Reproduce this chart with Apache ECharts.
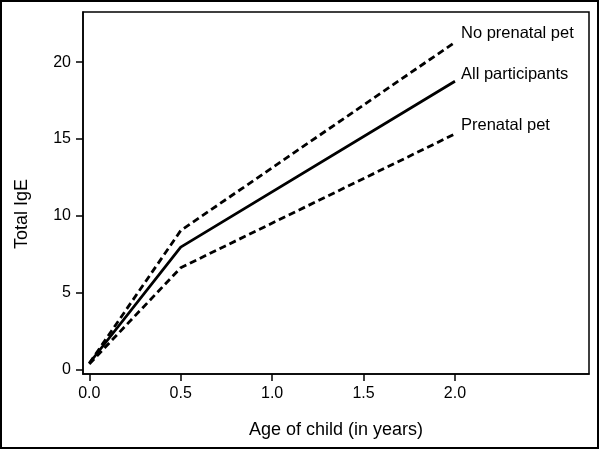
<!DOCTYPE html>
<html>
<head>
<meta charset="utf-8">
<script src="https://cdn.jsdelivr.net/npm/echarts@6/dist/echarts.min.js"></script>
<style>
html,body{margin:0;padding:0;background:#fff;}
#c{width:600px;height:450px;}
</style>
</head>
<body>
<div id="c"></div>
<script>
const ages = [0.0, 0.5, 2.0];
const allParticipants = [0.4, 7.96, 18.76];
const noPrenatalPet = [0.4, 9.04, 21.3];
const prenatalPet = [0.35, 6.62, 15.33];
const xTicks = [0.0, 0.5, 1.0, 1.5, 2.0];
const yTicks = [0, 5, 10, 15, 20];
const seriesNames = ['No prenatal pet', 'All participants', 'Prenatal pet'];
const yTitle = 'Total IgE';
const xTitle = 'Age of child (in years)';

const font = 'Arial, "Liberation Sans", sans-serif';
const toPairs = arr => ages.map((a, i) => [a, arr[i]]);

function mkSeries(name, values, dashed, offY) {
  return {
    name: name,
    type: 'line',
    data: toPairs(values),
    showSymbol: false,
    symbol: 'none',
    animation: false,
    lineStyle: {color: '#000', width: 2.8, type: dashed ? [7, 4] : 'solid'},
    endLabel: {
      show: true,
      formatter: name,
      color: '#000',
      fontFamily: font,
      fontSize: 16.5,
      distance: 6,
      offset: [0, offY]
    }
  };
}

const chart = echarts.init(document.getElementById('c'), null, {renderer: 'canvas'});
chart.setOption({
  backgroundColor: '#fff',
  animation: false,
  grid: {left: 83, right: 11, top: 12, bottom: 76, show: true, borderColor: '#000', borderWidth: 1.5},
  graphic: [{
    type: 'rect',
    shape: {x: 1, y: 1, width: 597, height: 447},
    style: {fill: 'none', stroke: '#000', lineWidth: 2},
    silent: true
  }, {
    type: 'text',
    x: 22,
    y: 214,
    rotation: Math.PI / 2,
    style: {text: yTitle, fill: '#000', font: '18px ' + font, align: 'center', verticalAlign: 'middle'},
    silent: true
  }],
  xAxis: {
    type: 'value',
    min: -0.0345,
    max: 2.733,
    name: xTitle,
    nameLocation: 'middle',
    nameGap: 47,
    nameTextStyle: {color: '#000', fontFamily: font, fontSize: 18},
    axisLine: {show: true, onZero: false, lineStyle: {color: '#000', width: 1.5}},
    axisTick: {show: true, length: 7, customValues: xTicks, lineStyle: {color: '#000', width: 1.5}},
    axisLabel: {customValues: xTicks, color: '#000', fontFamily: font, fontSize: 16, margin: 12,
      formatter: v => Number(v).toFixed(1)},
    splitLine: {show: false}
  },
  yAxis: {
    type: 'value',
    min: -0.3,
    max: 23.27,
    axisLine: {show: true, onZero: false, lineStyle: {color: '#000', width: 1.5}},
    axisTick: {show: true, length: 7, customValues: yTicks, lineStyle: {color: '#000', width: 1.5}},
    axisLabel: {customValues: yTicks, color: '#000', fontFamily: font, fontSize: 16, margin: 12},
    splitLine: {show: false}
  },
  series: [
    mkSeries(seriesNames[0], noPrenatalPet, true, -9),
    mkSeries(seriesNames[1], allParticipants, false, -7),
    mkSeries(seriesNames[2], prenatalPet, true, -8)
  ]
});
</script>
</body>
</html>
